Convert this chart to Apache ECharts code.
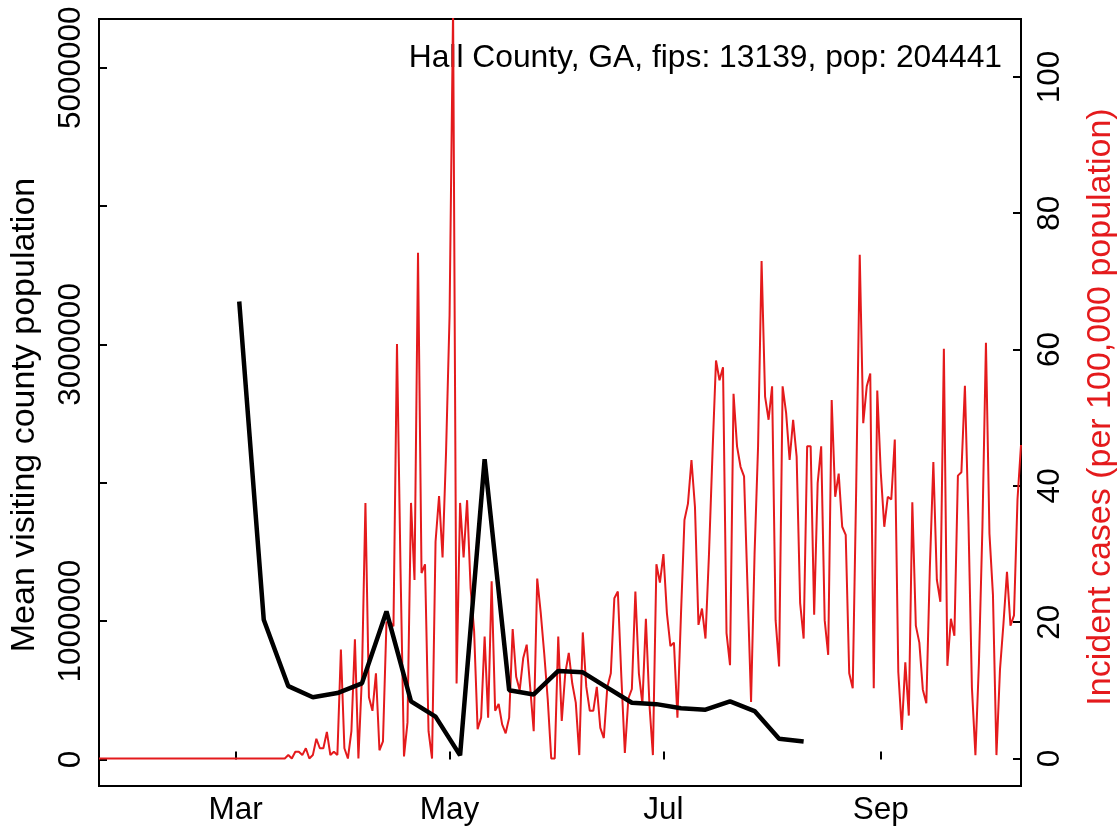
<!DOCTYPE html>
<html><head><meta charset="utf-8">
<script src="https://cdn.jsdelivr.net/npm/echarts@6/dist/echarts.min.js"></script>
<style>html,body{margin:0;padding:0;background:#fff}#chart{width:1119px;height:832px}</style>
</head><body><div id="chart"></div>
<script>
const titleText = 'Hall County, GA, fips: 13139, pop: 204441';
const leftAxisName = 'Mean visiting county population';
const rightAxisName = 'Incident cases (per 100,000 population)';
const monthTickDates = ['2020-03-01', '2020-05-01', '2020-07-01', '2020-09-01'];
const monthTickLabels = ['Mar', 'May', 'Jul', 'Sep'];
const leftTickValues = [0, 1000000, 2000000, 3000000, 4000000, 5000000];
const leftLabelValues = [0, 1000000, 3000000, 5000000];
const rightTickValues = [0, 20, 40, 60, 80, 100];

// daily incident cases per 100,000, starting 2020-01-22
const incidentStart = '2020-01-22';
const incidentCases = [
  0, 0, 0, 0, 0, 0, 0, 0, 0, 0,
  0, 0, 0, 0, 0, 0, 0, 0, 0, 0,
  0, 0, 0, 0, 0, 0, 0, 0, 0, 0,
  0, 0, 0, 0, 0, 0, 0, 0, 0, 0,
  0, 0, 0, 0, 0, 0, 0, 0, 0, 0,
  0, 0, 0, 0, 0.5, 0, 1, 1, 0.5, 1.5,
  0, 0.5, 2.9, 1.5, 1.5, 3.9, 0.5, 1, 0.5, 16,
  1.5, 0, 4, 17.5, 0, 12, 37.5, 9, 7, 12.5,
  1.2, 2.5, 20, 20, 19.4, 60.8, 28, 0.3, 5.3, 37.5,
  26.2, 74.2, 27.2, 28.5, 4, 0, 31.8, 38.5, 29.5, 45,
  65, 110, 11, 37.5, 29.5, 37.9, 25, 18.7, 4.3, 6,
  17.9, 6, 26, 7, 8, 5, 3.7, 6, 19, 12,
  10, 14.7, 16.7, 10.4, 4, 26.4, 21.4, 15.4, 8.7, 0,
  0, 17.9, 5.5, 12.5, 15.5, 11, 8.2, 0.5, 18.5, 10.5,
  7, 7, 10.5, 4.5, 3, 10.5, 12.5, 23.5, 24.5, 12,
  0.8, 8.8, 10.2, 24.5, 12.5, 8, 20.5, 8, 0.5, 28.5,
  25.8, 30, 21.3, 16.5, 17, 6, 21, 35, 37.4, 43.8,
  36.9, 19.6, 22, 17.6, 30, 44.8, 58.4, 55.5, 57.4, 18.4,
  13.7, 53.5, 45.8, 42.8, 41.4, 25, 8.3, 30, 45.8, 73,
  53.1, 49.7, 54.6, 20.3, 13.5, 54.6, 50.7, 43.8, 49.7, 44.3,
  22.8, 17.6, 45.8, 45.8, 21.1, 40.4, 45.8, 20.3, 15.2, 52.6,
  38.4, 41.8, 34, 32.8, 12.5, 10.3, 40, 73.9, 49.2, 54.6,
  56.5, 10.3, 54, 42, 34, 38.4, 38, 46.8, 12.7, 4.2,
  14.1, 6.3, 37.6, 19.5, 17, 10.1, 8.1, 28, 43.5, 26.2,
  23, 60.1, 13.6, 20.5, 18, 41.5, 42, 54.7, 35, 10.4,
  0.5, 14, 34, 61, 33, 24, 0.5, 13, 19.8, 27.4,
  19.5, 21, 38, 46
];

// weekly mean visiting county population, starting 2020-03-02
const mobilityStart = '2020-03-02';
const mobilityStepDays = 7;
const mobilityPop = [
  3310000, 1010000, 530000, 450000, 480000, 550000, 1070000, 420000,
  310000, 30000, 2170000, 500000, 470000, 640000, 630000, 520000,
  410000, 400000, 370000, 360000, 420000, 350000, 150000, 130000
];

function dayIndex(s) {
  const p = s.split('-').map(Number);
  return Math.round((Date.UTC(p[0], p[1] - 1, p[2]) - Date.UTC(2020, 0, 1)) / 86400000);
}
const redStart = dayIndex(incidentStart);
const redData = incidentCases.map((v, i) => [redStart + i, v]);
const blackStart = dayIndex(mobilityStart);
const blackData = mobilityPop.map((v, i) => [blackStart + i * mobilityStepDays, v]);
const monthTickDays = monthTickDates.map(dayIndex);

const FONT = '"Liberation Sans", Arial, Helvetica, sans-serif';
const RED = '#E41A1C';
const tickFont = 31.5;

const chart = echarts.init(document.getElementById('chart'), null, {renderer: 'canvas'});
chart.setOption({
  animation: false,
  backgroundColor: '#fff',
  grid: {left: 99, top: 19, width: 922, height: 767, show: true, borderColor: '#000', borderWidth: 2, backgroundColor: 'transparent'},
  xAxis: {
    type: 'value', min: redStart, max: redStart + incidentCases.length - 1,
    axisLine: {show: false}, splitLine: {show: false},
    axisTick: {customValues: monthTickDays, inside: true, length: 8, lineStyle: {color: '#000', width: 2}},
    axisLabel: {customValues: monthTickDays, margin: 8, fontSize: tickFont, fontFamily: FONT, color: '#000',
      formatter: v => monthTickLabels[monthTickDays.indexOf(v)] || ''}
  },
  yAxis: [{
    type: 'value', position: 'left', min: -191600, max: 5352000,
    axisLine: {show: false}, splitLine: {show: false},
    axisTick: {customValues: leftTickValues, inside: true, length: 8, lineStyle: {color: '#000', width: 2}},
    axisLabel: {customValues: leftLabelValues, rotate: 90, margin: 12, fontSize: tickFont, fontFamily: FONT, color: '#000',
      formatter: v => String(v)}
  }, {
    type: 'value', position: 'right', min: -4.035, max: 108.5,
    axisLine: {show: false}, splitLine: {show: false},
    axisTick: {customValues: rightTickValues, inside: true, length: 8, lineStyle: {color: '#000', width: 2}},
    axisLabel: {customValues: rightTickValues, rotate: 90, margin: 13, fontSize: tickFont, fontFamily: FONT, color: '#000',
      formatter: v => String(v)}
  }],
  series: [{
    type: 'line', yAxisIndex: 1, data: redData, showSymbol: false, symbol: 'none',
    lineStyle: {color: RED, width: 2}, z: 2
  }, {
    type: 'line', yAxisIndex: 0, data: blackData, showSymbol: false, symbol: 'none',
    lineStyle: {color: '#000', width: 4.5}, z: 3
  }],
  graphic: [
    {type: 'text', x: 1002, y: 58.5, style: {text: titleText, font: '31.8px ' + FONT, fill: '#000', align: 'right', verticalAlign: 'middle'}},
    {type: 'text', x: 25, y: 415, rotation: Math.PI / 2, style: {text: leftAxisName, font: '34px ' + FONT, fill: '#000', align: 'center', verticalAlign: 'middle'}},
    {type: 'text', x: 1101, y: 407, rotation: Math.PI / 2, style: {text: rightAxisName, font: '34px ' + FONT, fill: RED, align: 'center', verticalAlign: 'middle'}}
  ]
});
</script></body></html>
